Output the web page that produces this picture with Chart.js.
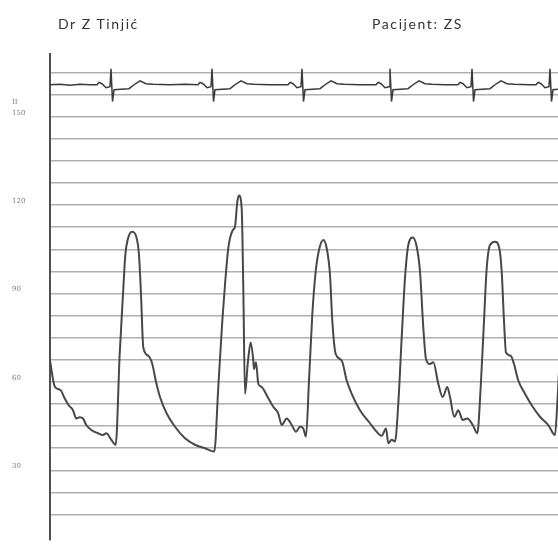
<!DOCTYPE html>
<html>
<head>
<meta charset="utf-8">
<script src="https://cdn.jsdelivr.net/npm/chart.js@4"></script>
<style>
  html, body { margin: 0; padding: 0; background: #fff; }
  #wrap { position: relative; width: 558px; height: 544px; overflow: hidden; }
  .hdr { position: absolute; top: 15px; font: 14px Lato, "Open Sans", sans-serif; color: #333; letter-spacing: 1.6px; white-space: nowrap; }
  #doctor { left: 58px; }
  #patient { left: 372px; }
  canvas { position: absolute; left: 0; top: 0; }
</style>
</head>
<body>
<div id="wrap">
  <canvas id="trace" width="558" height="544"></canvas>
  <div class="hdr" id="doctor">Dr Z Tinjić</div>
  <div class="hdr" id="patient">Pacijent: ZS</div>
</div>
<script>
// Pressure tracing (mmHg), time in seconds
const pressureTime = [
  0.00, 0.047, 0.107, 0.14, 0.187, 0.23, 0.263, 0.297, 0.33, 0.363, 0.413, 0.48, 0.53, 0.563, 0.613, 0.657,
  0.697, 0.73, 0.753, 0.78, 0.82, 0.863, 0.89, 0.91, 0.933, 0.983, 1.023, 1.057, 1.10, 1.167, 1.25, 1.35, 1.45, 1.55, 1.643,
  1.683, 1.723, 1.75, 1.783, 1.827, 1.85, 1.873, 1.89, 1.917, 1.933, 1.95, 1.977, 2.007, 2.033, 2.04, 2.06, 2.083, 2.117,
  2.167, 2.233, 2.283, 2.317, 2.367, 2.417, 2.46, 2.50, 2.533, 2.56,
  2.59, 2.623, 2.657, 2.69, 2.733, 2.767, 2.80, 2.823, 2.857, 2.917, 2.967, 3.017, 3.10, 3.20, 3.267, 3.317, 3.36, 3.383, 3.417, 3.45,
  3.483, 3.517, 3.55, 3.583, 3.627, 3.667, 3.70, 3.733, 3.76, 3.80, 3.833, 3.883, 3.927, 3.973, 4.00, 4.043, 4.083, 4.127, 4.173, 4.227, 4.273,
  4.307, 4.34, 4.367, 4.40, 4.45, 4.493, 4.517, 4.54, 4.56, 4.607, 4.64, 4.683, 4.75, 4.817, 4.90, 4.983, 5.05,
  5.073, 5.10
];
const pressureValues = [
  67.3, 58.5, 57.2, 54.9, 52.1, 50.4, 47.6, 48.0, 47.6, 45.4, 43.7, 42.6, 42.0, 42.6, 40.4, 38.7,
  69.5, 89.7, 103.1, 108.7, 111.0, 109.3, 103.1, 89.7, 71.7, 68.9, 66.1, 60.5, 54.9, 49.3, 44.8, 40.9, 38.7, 37.5, 36.4,
  58.3, 80.7, 93.0, 105.4, 111.5, 112.7, 121.1, 123.3, 118.8, 91.9, 56.0, 66.1, 73.4, 67.3, 64.4, 66.7, 59.4, 58.3,
  55.5, 51.6, 49.3, 45.4, 47.6, 45.4, 43.1, 44.8, 44.2, 41.5,
  60.5, 82.9, 97.5, 104.8, 108.2, 105.4, 96.4, 80.7, 69.5, 67.3, 60.5, 56.0, 50.4, 46.0, 43.1, 41.7, 44.2, 39.2, 40.4, 39.8,
  52.7, 75.1, 95.3, 106.5, 109.0, 105.9, 97.5, 78.5, 67.8, 66.1, 66.7, 59.4, 54.9, 58.3, 54.9, 48.2, 50.4, 47.1, 47.6, 45.4, 42.6,
  58.3, 80.7, 98.6, 106.5, 107.6, 105.4, 97.5, 80.7, 70.0, 68.9, 66.1, 60.5, 56.0, 52.1, 48.2, 45.4, 42.0,
  52.7, 70.0
];

// ECG lead II (mV), same time base
const ecgTime = [
  0.00, 0.10, 0.20, 0.30, 0.40, 0.47, 0.49, 0.52, 0.56, 0.60, 0.61, 0.625, 0.64, 0.79, 0.84, 0.90, 0.96, 1.03,
  1.20, 1.35, 1.48, 1.50, 1.53, 1.57, 1.61, 1.62, 1.635, 1.65, 1.80, 1.85, 1.91, 1.97, 2.04,
  2.20, 2.38, 2.40, 2.43, 2.47, 2.51, 2.52, 2.535, 2.55, 2.70, 2.75, 2.81, 2.87, 2.94,
  3.10, 3.26, 3.28, 3.31, 3.35, 3.39, 3.40, 3.415, 3.43, 3.58, 3.63, 3.69, 3.75, 3.82,
  3.95, 4.08, 4.10, 4.13, 4.17, 4.21, 4.22, 4.235, 4.25, 4.40, 4.45, 4.51, 4.57, 4.64,
  4.80, 4.86, 4.88, 4.91, 4.95, 4.99, 5.00, 5.015, 5.03, 5.10
];
const ecgValues = [
  0.0, 0.03, -0.02, 0.02, 0.0, 0.0, 0.12, 0.05, -0.15, -0.1, 0.8, -0.85, -0.25, -0.2, 0.0, 0.2, 0.05, 0.02,
  0.0, 0.02, 0.0, 0.12, 0.05, -0.15, -0.1, 0.8, -0.85, -0.25, -0.2, 0.0, 0.2, 0.05, 0.02,
  0.0, 0.0, 0.12, 0.05, -0.15, -0.1, 0.8, -0.85, -0.25, -0.2, 0.0, 0.2, 0.05, 0.02,
  0.0, 0.0, 0.12, 0.05, -0.15, -0.1, 0.8, -0.85, -0.25, -0.2, 0.0, 0.2, 0.05, 0.02,
  0.0, 0.0, 0.12, 0.05, -0.15, -0.1, 0.8, -0.85, -0.25, -0.2, 0.0, 0.2, 0.05, 0.02,
  0.0, 0.0, 0.12, 0.05, -0.15, -0.1, 0.8, -0.85, -0.25, -0.22
];

// Grid every 7.5 mmHg, labels only every 30
const gridValues = [15, 22.5, 30, 37.5, 45, 52.5, 60, 67.5, 75, 82.5, 90, 97.5, 105, 112.5, 120, 127.5, 135, 142.5, 150, 157.5, 165];
const labelValues = [30, 60, 90, 120, 150];
const leadLabel = "II";
const leadLabelAt = 153.5;

document.addEventListener("DOMContentLoaded", () => {
    const ctx = document.getElementById("trace").getContext("2d");

    const pressurePoints = pressureTime.map((t, i) => ({ x: t, y: pressureValues[i] }));
    const ecgPoints = ecgTime.map((t, i) => ({ x: t, y: ecgValues[i] }));

    new Chart(ctx, {
        type: "line",
        data: {
            datasets: [
                {
                    label: "ECG II",
                    data: ecgPoints,
                    yAxisID: "ecg",
                    borderColor: "#3a3a3a",
                    borderWidth: 1.5,
                    pointRadius: 0,
                    tension: 0,
                },
                {
                    label: "Pressure",
                    data: pressurePoints,
                    yAxisID: "y",
                    borderColor: "#484848",
                    borderWidth: 2,
                    pointRadius: 0,
                    cubicInterpolationMode: "monotone",
                },
            ],
        },
        options: {
            responsive: false,
            animation: false,
            layout: { padding: { top: 54, left: 12, right: 0, bottom: 0 } },
            plugins: {
                legend: { display: false },
                tooltip: { enabled: false },
            },
            scales: {
                x: {
                    type: "linear",
                    display: false,
                    min: 0,
                    max: 5.08,
                },
                y: {
                    type: "linear",
                    position: "left",
                    min: 6.45,
                    max: 171.3,
                    afterBuildTicks: (scale) => {
                        scale.ticks = gridValues.concat([leadLabelAt]).map((v) => ({ value: v }));
                    },
                    afterFit: (scale) => {
                        scale.width = 38;
                    },
                    border: { display: true, color: "#505050", width: 2 },
                    grid: {
                        drawTicks: false,
                        lineWidth: 1.6,
                        color: (c) => (c.tick && c.tick.value === leadLabelAt ? "rgba(0,0,0,0)" : "rgba(110,110,110,0.55)"),
                    },
                    ticks: {
                        autoSkip: false,
                        crossAlign: "far",
                        padding: 0,
                        labelOffset: -4,
                        color: "#7a7a7a",
                        font: { family: "DejaVu Serif", size: 7 },
                        callback: (v) => {
                            if (v === leadLabelAt) return leadLabel;
                            return labelValues.includes(v) ? String(v) : "";
                        },
                    },
                },
                ecg: {
                    type: "linear",
                    display: false,
                    min: -22.95,
                    max: 1.55,
                },
            },
        },
    });
});
</script>
</body>
</html>
